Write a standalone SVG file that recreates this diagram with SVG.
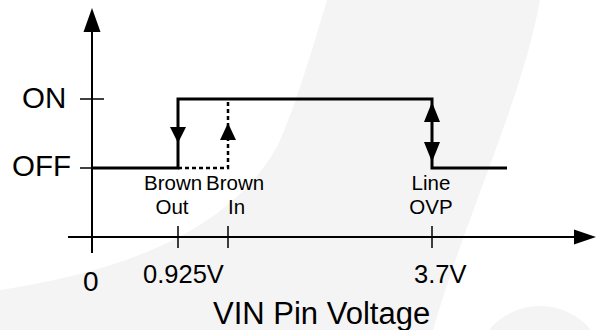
<svg xmlns="http://www.w3.org/2000/svg" width="596" height="330" viewBox="0 0 596 330">
<style>
.t{font-family:"Liberation Sans",Arial,sans-serif;fill:#000}
.ax{stroke:#000;stroke-width:2;fill:none}
.tk{stroke:#000;stroke-width:1.5;fill:none}
.st{stroke:#000;stroke-width:3;fill:none}
.ds{stroke:#000;stroke-width:2.5;fill:none;stroke-dasharray:4,3}
.ah{fill:#000;stroke:none}
.bg{fill:#f4f4f4;stroke:none}
</style>
<rect width="596" height="330" fill="#fff"/>
<g id="background">
<path class="bg" d="M327,0 L540,0 C522,100 468,210 433,330 L0,330 L0,290 C120,272 230,232 278,145 C296,105 312,50 327,0 Z"/>
<circle class="bg" cx="540" cy="372" r="66"/>
</g>
<g id="axes">
<line class="ax" x1="92" y1="28" x2="92" y2="253"/>
<path class="ah" d="M92,8 L100.5,32 L83.5,32 Z"/>
<line class="ax" x1="68" y1="237" x2="576" y2="237"/>
<path class="ah" d="M596,237 L574,229.5 L574,244.5 Z"/>
<line class="tk" x1="80" y1="99" x2="104" y2="99"/>
<line class="tk" x1="80" y1="168" x2="92" y2="168"/>
<line class="tk" x1="178" y1="226" x2="178" y2="248"/>
<line class="tk" x1="228" y1="226" x2="228" y2="248"/>
<line class="tk" x1="432" y1="226" x2="432" y2="248"/>
</g>
<g id="connectors">
<path class="st" d="M92,168 L178,168 L178,99 L432,99 L432,168 L507,168"/>
<path class="ds" d="M178,168 L228,168 L228,99"/>
<path class="ah" d="M178,143 L186,127 L170,127 Z"/>
<path class="ah" d="M228,123 L236,140 L220,140 Z"/>
<path class="ah" d="M432,102 L440,122 L424,122 Z"/>
<path class="ah" d="M432,162 L440,142 L424,142 Z"/>
</g>
<g id="labels">
<text class="t" x="22" y="108" font-size="29.5">ON</text>
<text class="t" x="12" y="176" font-size="29.5">OFF</text>
<text class="t" x="144" y="190" font-size="20.5">Brown</text>
<text class="t" x="206" y="190" font-size="20.5">Brown</text>
<text class="t" x="172" y="214" font-size="20.5" text-anchor="middle">Out</text>
<text class="t" x="228" y="214" font-size="20.5">In</text>
<text class="t" x="431" y="190" font-size="20.5" text-anchor="middle">Line</text>
<text class="t" x="431" y="214" font-size="20.5" text-anchor="middle">OVP</text>
<text class="t" x="83" y="291" font-size="28">0</text>
<text class="t" x="143" y="283" font-size="25.5">0.925V</text>
<text class="t" x="414" y="283" font-size="25.5">3.7V</text>
<text class="t" x="213" y="324" font-size="31">VIN Pin Voltage</text>
</g>
</svg>
